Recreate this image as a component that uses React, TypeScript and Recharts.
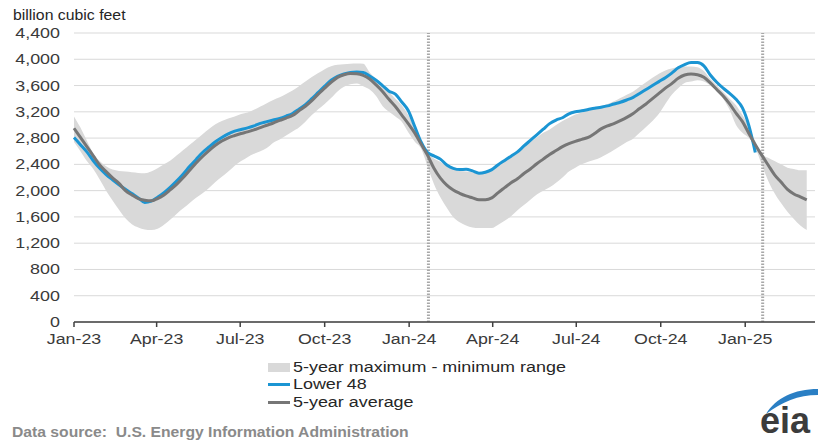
import React from 'react'
import {
  ComposedChart,
  Area,
  Line,
  XAxis,
  YAxis,
  CartesianGrid,
  ReferenceLine,
} from 'recharts'

const DAY = 86400000
const FONT = "'Liberation Sans', Arial, sans-serif"

// weekly storage report dates, starting on the first week of 2023
const WEEK_START = Date.UTC(2023, 0, 1)
const WEEK_COUNT = 115
const weeks = Array.from({ length: WEEK_COUNT }, (_, i) => WEEK_START + i * 7 * DAY)

// Lower 48 working gas in storage (bcf), ends mid-January 2025
const lower48 = [
  2810, 2700, 2590, 2455, 2340, 2245, 2165, 2090, 2020, 1955,
  1890, 1820, 1840, 1900, 1970, 2055, 2150, 2255, 2370, 2475,
  2580, 2665, 2745, 2810, 2865, 2905, 2930, 2955, 2985, 3025,
  3050, 3075, 3100, 3135, 3175, 3240, 3310, 3400, 3495, 3590,
  3680, 3740, 3775, 3800, 3805, 3800, 3745, 3680, 3600, 3515,
  3470, 3350, 3220, 2980, 2740, 2580, 2530, 2480, 2390, 2340,
  2320, 2325, 2300, 2265, 2280, 2320, 2395, 2460, 2525, 2590,
  2680, 2765, 2850, 2935, 3020, 3075, 3110, 3170, 3200, 3215,
  3235, 3255, 3270, 3290, 3320, 3345, 3380, 3420, 3480, 3540,
  3600, 3660, 3720, 3790, 3870, 3920, 3950, 3950, 3900, 3760,
  3650, 3560, 3480, 3390, 3260, 2990, 2580,
]

// 5-year average
const fiveYearAvg = [
  2950, 2810, 2670, 2530, 2390, 2290, 2195, 2110, 2000, 1935,
  1880, 1855, 1845, 1880, 1935, 2015, 2100, 2200, 2310, 2420,
  2520, 2610, 2690, 2755, 2805, 2840, 2870, 2895, 2925, 2960,
  2995, 3030, 3070, 3105, 3145, 3215, 3285, 3370, 3470, 3560,
  3650, 3725, 3765, 3785, 3780, 3755, 3700, 3610, 3510, 3390,
  3280, 3150, 3020, 2880, 2710, 2540, 2340, 2190, 2085, 2010,
  1960, 1920, 1890, 1860, 1860, 1890, 1970, 2045, 2120, 2180,
  2260, 2330, 2410, 2480, 2550, 2610, 2670, 2715, 2750, 2780,
  2810, 2870, 2940, 2985, 3020, 3065, 3115, 3175, 3250, 3320,
  3400, 3480, 3560, 3630, 3710, 3760, 3775, 3765, 3725, 3640,
  3540, 3440, 3320, 3180, 3050, 2870, 2700, 2540, 2390, 2240,
  2130, 2020, 1950, 1905, 1860,
]

// 5-year maximum / minimum
const fiveYearMax = [
  3130, 2960, 2760, 2570, 2450, 2370, 2320, 2300, 2290, 2280,
  2270, 2265, 2290, 2340, 2400, 2460, 2540, 2620, 2700, 2780,
  2860, 2940, 3010, 3060, 3100, 3130, 3165, 3190, 3230, 3280,
  3330, 3380, 3420, 3470, 3525, 3590, 3660, 3730, 3790, 3850,
  3895, 3915, 3925, 3930, 3935, 3930, 3800, 3700, 3600, 3500,
  3400, 3300, 3150, 2950, 2720, 2590, 2490, 2440, 2370, 2320,
  2300, 2290, 2280, 2270, 2280, 2320, 2380, 2450, 2510, 2590,
  2670, 2740, 2810, 2880, 2930, 3000, 3060, 3110, 3160, 3190,
  3220, 3250, 3290, 3320, 3360, 3410, 3460, 3510, 3580, 3650,
  3720, 3780, 3830, 3860, 3880, 3890, 3890, 3880, 3820, 3700,
  3600, 3500, 3400, 3300, 3150, 2980, 2750, 2550, 2500, 2450,
  2400, 2350, 2330, 2310, 2310,
]

const fiveYearMin = [
  2740, 2600, 2450, 2330, 2170, 2000, 1850, 1710, 1580, 1490,
  1440, 1410, 1400, 1420, 1480, 1560, 1650, 1730, 1810, 1890,
  1960, 2040, 2130, 2210, 2290, 2380, 2450, 2510, 2560, 2600,
  2650, 2730, 2780, 2840, 2900, 2960, 3050, 3150, 3240, 3320,
  3410, 3510, 3580, 3620, 3630, 3590, 3540, 3440, 3290, 3200,
  3130, 3050, 2890, 2750, 2640, 2370, 2100, 1900, 1740, 1600,
  1520, 1470, 1440, 1430, 1430, 1430, 1480, 1540, 1610, 1700,
  1780, 1860, 1940, 2000, 2050, 2120, 2200, 2290, 2350, 2400,
  2440, 2470, 2510, 2560, 2620, 2680, 2740, 2790, 2880, 2970,
  3060, 3170, 3320, 3460, 3560, 3640, 3660, 3680, 3660, 3600,
  3520, 3400, 3230, 3000, 2880, 2800, 2650, 2400, 2150, 1960,
  1810, 1680, 1570, 1470, 1400,
]

const yTicks = [0, 400, 800, 1200, 1600, 2000, 2400, 2800, 3200, 3600, 4000, 4400]
const xTicks = [
  Date.UTC(2023, 0, 1), Date.UTC(2023, 3, 1), Date.UTC(2023, 6, 1), Date.UTC(2023, 9, 1),
  Date.UTC(2024, 0, 1), Date.UTC(2024, 3, 1), Date.UTC(2024, 6, 1), Date.UTC(2024, 9, 1),
  Date.UTC(2025, 0, 1),
]
const xDomain = [Date.UTC(2023, 0, 1), Date.UTC(2025, 2, 18)]
const markerDates = [Date.UTC(2024, 0, 22), Date.UTC(2025, 0, 20)]
const MONTHS = ['Jan', 'Feb', 'Mar', 'Apr', 'May', 'Jun', 'Jul', 'Aug', 'Sep', 'Oct', 'Nov', 'Dec']

const data = weeks.map((t, i) => ({
  t,
  l48: lower48[i],
  avg: fiveYearAvg[i],
  range: [fiveYearMin[i], fiveYearMax[i]],
}))

const fmtMonth = (v: number) => {
  const d = new Date(v)
  return `${MONTHS[d.getUTCMonth()]}-${String(d.getUTCFullYear()).slice(2)}`
}

const XTick = (props: any) => {
  const { x, y, payload } = props
  return (
    <text
      transform={`translate(${x},${y + 15}) scale(1.27,1)`}
      textAnchor="middle"
      fontSize={14}
      fontFamily={FONT}
      fill="#3a3a3a"
    >
      {fmtMonth(payload.value)}
    </text>
  )
}

const YTick = (props: any) => {
  const { x, y, payload } = props
  return (
    <text
      transform={`translate(${x},${y + 5}) scale(1.28,1)`}
      textAnchor="end"
      fontSize={14}
      fontFamily={FONT}
      fill="#3a3a3a"
    >
      {payload.value.toLocaleString('en-US')}
    </text>
  )
}

const stretched: React.CSSProperties = {
  display: 'inline-block',
  transformOrigin: 'left center',
  whiteSpace: 'nowrap',
}

const LegendRow = ({ y, swatch, label }: { y: number; swatch: React.ReactNode; label: string }) => (
  <div style={{ position: 'absolute', left: 268, top: y - 9, height: 18, display: 'flex', alignItems: 'center' }}>
    <div style={{ width: 22, display: 'flex', alignItems: 'center' }}>{swatch}</div>
    <span style={{ ...stretched, marginLeft: 3, fontSize: 14, lineHeight: '18px', color: '#262626', transform: 'scaleX(1.28)' }}>
      {label}
    </span>
  </div>
)

export default function App() {
  return (
    <div
      style={{
        position: 'absolute',
        left: 0,
        top: 0,
        width: 822,
        height: 441,
        background: '#fff',
        fontFamily: FONT,
        overflow: 'hidden',
      }}
    >
      <div style={{ position: 'absolute', left: 13, top: 7, fontSize: 14, lineHeight: '16px', color: '#262626' }}>
        <span style={{ ...stretched, transform: 'scaleX(1.13)' }}>billion cubic feet</span>
      </div>

      <ComposedChart width={822} height={360} data={data} margin={{ top: 33, right: 7, bottom: 0, left: 0 }}>
        <CartesianGrid vertical={false} stroke="#d9d9d9" />
        <XAxis
          dataKey="t"
          type="number"
          domain={xDomain}
          ticks={xTicks}
          height={38}
          tick={<XTick />}
          tickSize={5}
          axisLine={{ stroke: '#404040', strokeWidth: 1.5 }}
          tickLine={{ stroke: '#404040', strokeWidth: 1.5 }}
          interval={0}
        />
        <YAxis
          domain={[0, 4400]}
          ticks={yTicks}
          width={74}
          axisLine={false}
          tickLine={false}
          tickSize={6}
          tickMargin={8}
          tick={<YTick />}
          interval={0}
        />
        <Area
          dataKey="range"
          type="monotone"
          stroke="none"
          fill="#d9d9d9"
          fillOpacity={1}
          isAnimationActive={false}
        />
        {markerDates.map((d) => (
          <ReferenceLine key={d} x={d} stroke="#a8a8a8" strokeWidth={3} strokeDasharray="1.5 1.5" />
        ))}
        <Line
          dataKey="l48"
          type="monotone"
          stroke="#1b95d3"
          strokeWidth={3}
          dot={false}
          isAnimationActive={false}
        />
        <Line
          dataKey="avg"
          type="monotone"
          stroke="#767676"
          strokeWidth={3}
          dot={false}
          isAnimationActive={false}
        />
      </ComposedChart>

      <LegendRow y={367} label="5-year maximum - minimum range" swatch={<div style={{ width: 22, height: 9, background: '#d9d9d9' }} />} />
      <LegendRow y={384} label="Lower 48" swatch={<div style={{ width: 22, height: 3, background: '#1b95d3' }} />} />
      <LegendRow y={402} label="5-year average" swatch={<div style={{ width: 22, height: 3, background: '#767676' }} />} />

      <div style={{ position: 'absolute', left: 12, top: 424, fontSize: 14, lineHeight: '16px', color: '#8a8a8a', fontWeight: 'bold' }}>
        <span style={{ ...stretched, transform: 'scaleX(1.12)' }}>Data source:&nbsp; U.S. Energy Information Administration</span>
      </div>

      <svg style={{ position: 'absolute', left: 756, top: 384 }} width={64} height={56}>
        <path d="M 10 30 C 20 14, 38 5, 62 5 L 62 11 C 42 11, 26 18, 10 30 Z" fill="#2a7fc4" />
        <text x={4} y={49} fontSize={36} fontWeight="bold" fontFamily={FONT} fill="#3c3c3c">
          eia
        </text>
      </svg>
    </div>
  )
}
